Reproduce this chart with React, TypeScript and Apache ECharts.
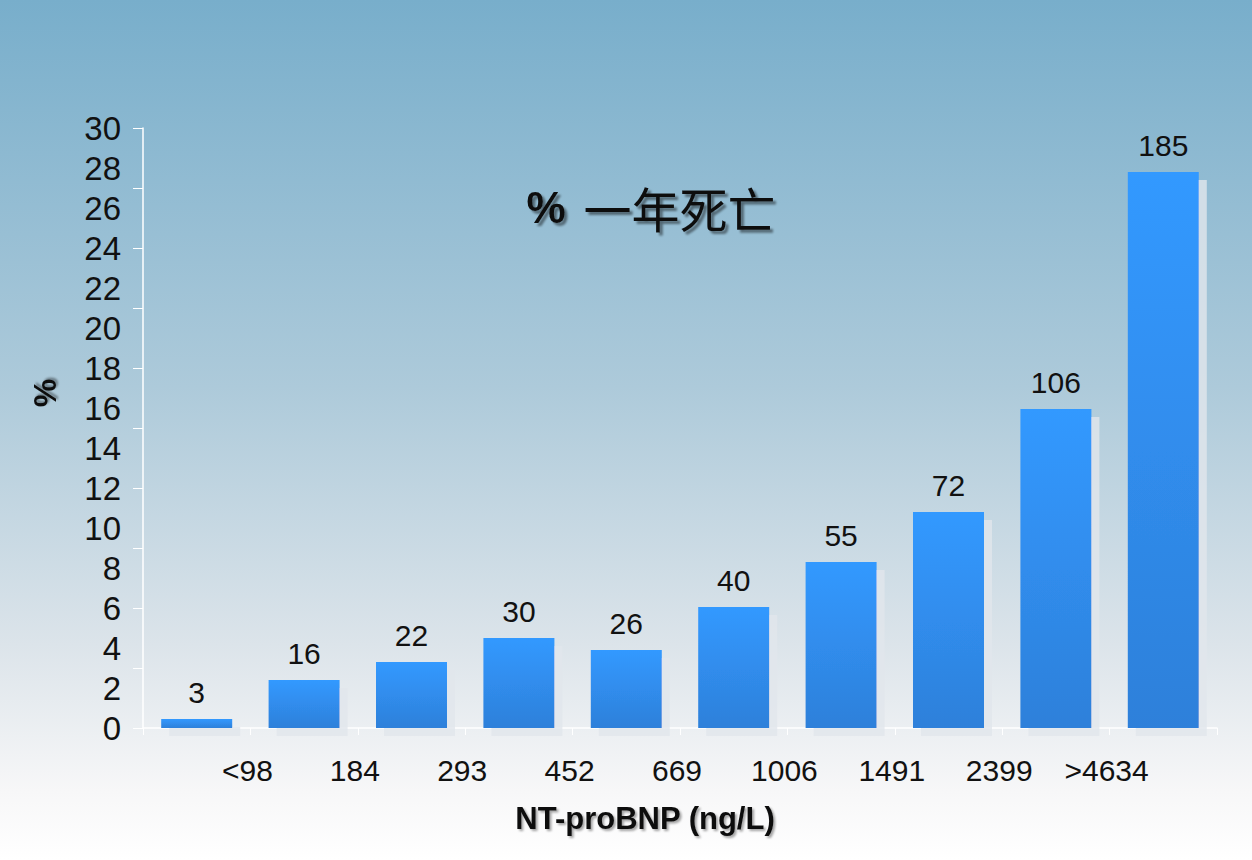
import React, { useEffect, useRef } from "react";
import * as echarts from "echarts";

const categories = ["G1", "G2", "G3", "G4", "G5", "G6", "G7", "G8", "G9", "G10"];
const mortalityPct = [0.45, 2.4, 3.3, 4.5, 3.9, 6.05, 8.3, 10.8, 15.95, 27.8];
const deathCounts = [3, 16, 22, 30, 26, 40, 55, 72, 106, 185];
const boundaryLabels = ["", "<98", "184", "293", "452", "669", "1006", "1491", "2399", ">4634", ""];

export default function App() {
  const ref = useRef<HTMLDivElement>(null);
  useEffect(() => {
    document.body.style.margin = "0";
    const chart = echarts.init(ref.current!, null, { renderer: "svg" });
    const latin = "'Liberation Sans', Arial, sans-serif";
    const shadow = {
      textShadowColor: "rgba(0,0,0,0.45)",
      textShadowOffsetX: 3,
      textShadowOffsetY: 3,
      textShadowBlur: 2,
    };
    chart.setOption({
      animation: false,
      backgroundColor: {
        type: "linear",
        x: 0,
        y: 0,
        x2: 0,
        y2: 1,
        colorStops: [
          { offset: 0, color: "#78AECB" },
          { offset: 0.45, color: "#ADCADA" },
          { offset: 0.75, color: "#DCE4EA" },
          { offset: 0.92, color: "#F7F7F8" },
          { offset: 1, color: "#FFFFFF" },
        ],
      },
      grid: { left: 143, right: 35, top: 128, bottom: 132 },
      title: {
        text: "{p|%}{c|一年死亡}",
        left: 646,
        top: 178,
        textAlign: "center",
        textStyle: {
          rich: {
            p: {
              fontFamily: latin,
              fontWeight: "bold",
              fontSize: 44,
              color: "#111",
              padding: [0, 18, 0, 0],
              ...shadow,
            },
            c: {
              fontFamily: "'Noto Sans CJK SC', sans-serif",
              fontWeight: "normal",
              fontSize: 48,
              color: "#111",
              ...shadow,
            },
          },
        },
      },
      xAxis: [
        {
          type: "category",
          data: categories,
          axisLine: { show: true, lineStyle: { color: "#FFFFFF", width: 1.5 } },
          axisTick: { show: true, alignWithLabel: false, length: 7, lineStyle: { color: "#FFFFFF" } },
          axisLabel: { show: false },
          splitLine: { show: false },
        },
        {
          type: "value",
          min: 0,
          max: 10,
          interval: 1,
          position: "bottom",
          axisLine: { show: false },
          axisTick: { show: false },
          splitLine: { show: false },
          axisLabel: {
            show: true,
            margin: 27,
            fontFamily: latin,
            fontSize: 30,
            color: "#111",
            padding: [0, 6, 0, 0],
            formatter: (v: number) => boundaryLabels[Math.round(v)] ?? "",
          },
        },
      ],
      yAxis: [
        {
          type: "value",
          min: 0,
          max: 30,
          interval: 2,
          axisLine: { show: true, lineStyle: { color: "#FFFFFF", width: 1.5 } },
          axisTick: { show: false },
          splitLine: { show: false },
          axisLabel: { margin: 22, fontFamily: latin, fontSize: 33, color: "#111" },
        },
        {
          type: "value",
          min: 0,
          max: 30,
          interval: 3,
          position: "left",
          axisLine: { show: false },
          axisTick: { show: true, length: 10, lineStyle: { color: "#FFFFFF" } },
          splitLine: { show: false },
          axisLabel: { show: false },
        },
      ],
      graphic: [
        {
          type: "text",
          x: 45,
          y: 393,
          rotation: Math.PI / 2,
          style: {
            text: "%",
            fontFamily: latin,
            fontWeight: "bold",
            fontSize: 32,
            fill: "#111",
            align: "center",
            verticalAlign: "middle",
            textShadowColor: "rgba(0,0,0,0.4)",
            textShadowOffsetX: 2,
            textShadowOffsetY: 2,
            textShadowBlur: 2,
          },
        },
        {
          type: "text",
          x: 645,
          y: 818,
          style: {
            text: "NT-proBNP (ng/L)",
            fontFamily: latin,
            fontWeight: "bold",
            fontSize: 31,
            fill: "#111",
            align: "center",
            verticalAlign: "middle",
            textShadowColor: "rgba(0,0,0,0.35)",
            textShadowOffsetX: 2,
            textShadowOffsetY: 2,
            textShadowBlur: 2,
          },
        },
      ],
      series: [
        {
          type: "bar",
          xAxisIndex: 0,
          yAxisIndex: 0,
          data: mortalityPct,
          barWidth: 71,
          itemStyle: {
            color: {
              type: "linear",
              x: 0,
              y: 0,
              x2: 0,
              y2: 1,
              colorStops: [
                { offset: 0, color: "#3399FF" },
                { offset: 1, color: "#2D80DA" },
              ],
            },
            shadowColor: "rgba(225,230,236,0.8)",
            shadowOffsetX: 8,
            shadowOffsetY: 8,
            shadowBlur: 0,
          },
          label: {
            show: true,
            position: "top",
            distance: 12,
            fontFamily: latin,
            fontSize: 30,
            color: "#111",
            formatter: (p: any) => String(deathCounts[p.dataIndex]),
          },
        },
      ],
    });
    return () => chart.dispose();
  }, []);
  return <div ref={ref} style={{ width: 1252, height: 860 }} />;
}
